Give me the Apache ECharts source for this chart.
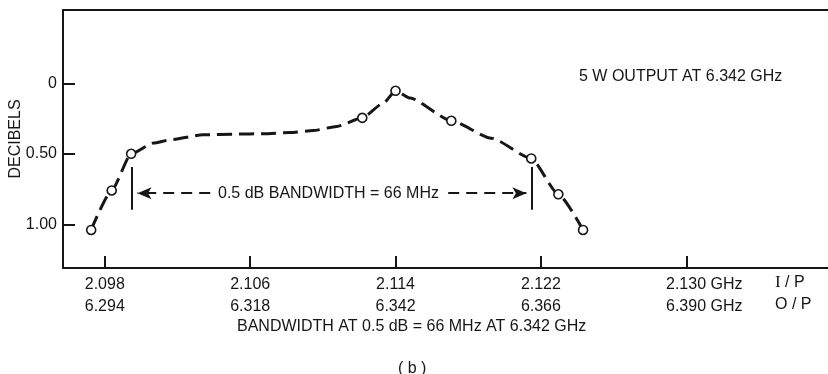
<!DOCTYPE html>
<html>
<head>
<meta charset="utf-8">
<script src="https://cdn.jsdelivr.net/npm/echarts@6/dist/echarts.min.js"></script>
<style>
  html, body { margin: 0; padding: 0; background: #fff; }
  #chart { width: 828px; height: 374px; }
</style>
</head>
<body>
<div id="chart"></div>
<script>
// Measured points: input frequency (GHz) and response (dB down)
const measuredFreq = [2.09725, 2.09838, 2.09945, 2.11217, 2.1140, 2.11707, 2.12147, 2.12296, 2.12432];
const measuredDb   = [1.04, 0.76, 0.50, 0.245, 0.053, 0.266, 0.533, 0.787, 1.04];

// Faired response curve drawn through the measurements
const curveFreq = [2.09725, 2.09838, 2.09945, 2.10068, 2.10160, 2.10341, 2.10527, 2.10672, 2.10820,
                   2.10947, 2.11077, 2.11217, 2.11334, 2.1140, 2.11481, 2.11707, 2.11927, 2.12147,
                   2.12296, 2.12432];
const curveDb   = [1.04, 0.76, 0.50, 0.424, 0.401, 0.365, 0.360, 0.358, 0.349,
                   0.335, 0.306, 0.245, 0.140, 0.053, 0.105, 0.266, 0.389, 0.533,
                   0.787, 1.04];

// Axis ticks: input frequency, matching output frequency (x3), decibel scale
const inputTicks  = [2.098, 2.106, 2.114, 2.122, 2.130];
const inputLabels = ['2.098', '2.106', '2.114', '2.122', '2.130'];
const outputLabels = ['6.294', '6.318', '6.342', '6.366', '6.390'];
const dbTicks  = [0, 0.5, 1.0];
const dbLabels = ['0', '0.50', '1.00'];

// 0.5 dB bandwidth edges (input GHz) and the span marker geometry (dB)
const bandEdges = [2.0995, 2.1215];
const bandMarkerDb = [0.594, 0.897];
const bandArrowDb = 0.779;
const bandTextFreq = 2.11031;
const bandTextGap = [2.1038, 2.1169];

const INK = '#161616';
const FONT = '"Liberation Sans", Arial, sans-serif';
const X_MIN = 2.0957, X_MAX = 2.1378;

const chart = echarts.init(document.getElementById('chart'), null, { renderer: 'canvas' });

const bandLines = [
  [{ coord: [bandEdges[0], bandMarkerDb[0]] }, { coord: [bandEdges[0], bandMarkerDb[1]] }],
  [{ coord: [bandEdges[1], bandMarkerDb[0]] }, { coord: [bandEdges[1], bandMarkerDb[1]] }]
].map(seg => seg.map(p => Object.assign(p, { symbol: 'none' })));
bandLines.forEach(seg => { seg[0].lineStyle = { type: 'solid', width: 2, color: INK }; });

const arrowLines = [
  [{ coord: [bandTextGap[0], bandArrowDb], symbol: 'none' },
   { coord: [bandEdges[0] + 0.0003, bandArrowDb], symbol: 'arrow' }],
  [{ coord: [bandTextGap[1], bandArrowDb], symbol: 'none' },
   { coord: [bandEdges[1] - 0.0003, bandArrowDb], symbol: 'arrow' }]
];
arrowLines.forEach(seg => { seg[0].lineStyle = { type: [11, 7], width: 1.8, color: INK }; });

chart.setOption({
  animation: false,
  backgroundColor: '#fff',
  textStyle: { fontFamily: FONT, color: INK },
  grid: { left: 63, right: 0, top: 10, bottom: 106, containLabel: false, outerBoundsMode: 'none' },
  xAxis: [{
    type: 'value', min: X_MIN, max: X_MAX, position: 'bottom',
    axisLine: { show: true, onZero: false, lineStyle: { color: INK, width: 2 } },
    axisTick: { show: true, inside: true, length: 12, customValues: inputTicks, lineStyle: { color: INK, width: 2 } },
    axisLabel: {
      show: true, customValues: inputTicks, margin: 6, fontSize: 16, lineHeight: 22, color: INK, fontFamily: FONT,
      formatter: function (v) {
        let i = inputTicks.findIndex(t => Math.abs(t - v) < 1e-6);
        if (i < 0) return '';
        if (i === inputTicks.length - 1) {
          return '{p|}{n|' + inputLabels[i] + '}{g| GHz}\n{p|}{n|' + outputLabels[i] + '}{g| GHz}';
        }
        return '{n|' + inputLabels[i] + '}\n{n|' + outputLabels[i] + '}';
      },
      rich: {
        n: { fontSize: 16, lineHeight: 22, fontFamily: FONT, color: INK },
        g: { fontSize: 16, lineHeight: 22, fontFamily: FONT, color: INK },
        p: { width: 36, lineHeight: 22 }
      }
    },
    splitLine: { show: false }
  }, {
    type: 'value', min: X_MIN, max: X_MAX, position: 'top',
    axisLine: { show: true, onZero: false, lineStyle: { color: INK, width: 2 } },
    axisTick: { show: false }, axisLabel: { show: false }, splitLine: { show: false }
  }],
  yAxis: {
    type: 'value', inverse: true, min: -0.52, max: 1.31,
    name: 'DECIBELS', nameLocation: 'middle', nameRotate: 90, nameGap: 39, nameMoveOverlap: false,
    nameTextStyle: { fontSize: 16, color: INK, fontFamily: FONT },
    axisLine: { show: true, onZero: false, lineStyle: { color: INK, width: 2 } },
    axisTick: { show: true, inside: true, length: 12, customValues: dbTicks, lineStyle: { color: INK, width: 2 } },
    axisLabel: {
      show: true, customValues: dbTicks, margin: 6, fontSize: 16, color: INK, fontFamily: FONT,
      formatter: function (v) {
        let i = dbTicks.findIndex(t => Math.abs(t - v) < 1e-6);
        return i < 0 ? '' : dbLabels[i];
      }
    },
    splitLine: { show: false }
  },
  series: [{
    name: 'response',
    type: 'line',
    data: curveFreq.map((f, i) => [f, curveDb[i]]),
    smooth: 0.2,
    smoothMonotone: 'x',
    symbol: 'none',
    lineStyle: { color: INK, width: 3, type: [15, 7] },
    z: 2,
    markLine: {
      silent: true,
      symbol: ['none', 'none'],
      symbolSize: [9, 14],
      label: { show: false },
      lineStyle: { color: INK },
      data: bandLines.concat(arrowLines)
    },
    markPoint: {
      silent: true,
      symbol: 'rect',
      symbolSize: 1,
      itemStyle: { color: 'rgba(0,0,0,0)' },
      label: {
        show: true, position: 'inside', fontSize: 16, color: INK, fontFamily: FONT,
        formatter: '0.5 dB BANDWIDTH = 66 MHz'
      },
      data: [{ coord: [bandTextFreq, bandArrowDb] }]
    }
  }, {
    name: 'measured',
    type: 'scatter',
    data: measuredFreq.map((f, i) => [f, measuredDb[i]]),
    symbol: 'circle',
    symbolSize: 9,
    itemStyle: { color: '#fff', borderColor: INK, borderWidth: 1.6, opacity: 1 },
    z: 3
  }],
  graphic: [
    { type: 'text', left: 579, top: 69, style: { text: '5 W OUTPUT AT 6.342 GHz', font: '16px ' + FONT, fill: INK } },
    { type: 'text', left: 775, top: 274, style: {
        text: '{s|I}{n| / P}\n{n|O / P}',
        rich: {
          s: { fontFamily: '"Liberation Serif", serif', fontSize: 17, lineHeight: 22, fill: INK },
          n: { fontFamily: FONT, fontSize: 16, lineHeight: 22, fill: INK }
        }
      } },
    { type: 'text', left: 237, top: 319, style: { text: 'BANDWIDTH AT 0.5 dB = 66 MHz AT 6.342 GHz', font: '16px ' + FONT, fill: INK } },
    { type: 'text', left: 398, top: 361, style: { text: '( b )', font: '16px ' + FONT, fill: INK } }
  ]
});
</script>
</body>
</html>
